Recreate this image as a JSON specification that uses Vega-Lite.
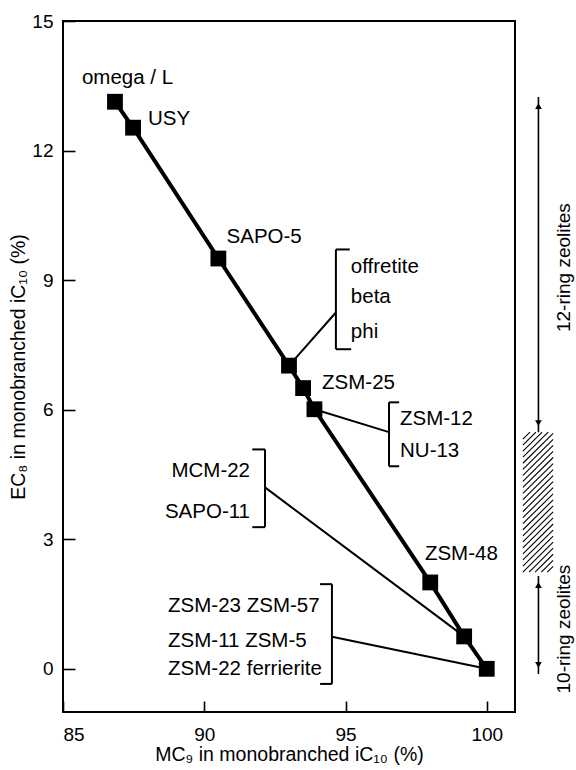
{
  "$schema": "https://vega.github.io/schema/vega-lite/v6.json",
  "width": 452,
  "height": 691,
  "autosize": "none",
  "padding": {"left": 63, "top": 21, "right": 61, "bottom": 58},
  "background": "white",
  "config": {
    "font": "Liberation Sans",
    "view": {"stroke": "black", "strokeWidth": 2},
    "axis": {"grid": false, "domain": false, "tickColor": "black", "tickWidth": 1.6, "labelColor": "black", "titleColor": "black", "labelFont": "Liberation Sans", "titleFont": "Liberation Sans", "labelFontSize": 19, "titleFontSize": 19.5, "titleFontWeight": "normal"}
  },
  "datasets": {
    "points": [
      {"i": 1, "x": 86.84, "y": 13.13},
      {"i": 2, "x": 87.48, "y": 12.53},
      {"i": 3, "x": 90.5, "y": 9.5},
      {"i": 4, "x": 93.0, "y": 7.02},
      {"i": 5, "x": 93.5, "y": 6.5},
      {"i": 6, "x": 93.9, "y": 6.01},
      {"i": 7, "x": 98.0, "y": 2.0},
      {"i": 8, "x": 99.2, "y": 0.75},
      {"i": 9, "x": 100.0, "y": 0.0}
    ],
    "leaders": [
      {"x": 93.0, "y": 7.02, "x2": 94.66, "y2": 8.25},
      {"x": 94.66, "y": 9.71, "x2": 94.66, "y2": 7.4},
      {"x": 94.66, "y": 9.71, "x2": 95.15, "y2": 9.71},
      {"x": 94.66, "y": 7.4, "x2": 95.2, "y2": 7.4},
      {"x": 93.9, "y": 6.01, "x2": 96.54, "y2": 5.48},
      {"x": 96.54, "y": 6.17, "x2": 96.54, "y2": 4.69},
      {"x": 96.54, "y": 6.17, "x2": 96.9, "y2": 6.17},
      {"x": 96.54, "y": 4.69, "x2": 96.9, "y2": 4.69},
      {"x": 92.15, "y": 4.2, "x2": 99.2, "y2": 0.75},
      {"x": 92.15, "y": 5.08, "x2": 92.15, "y2": 3.28},
      {"x": 91.7, "y": 5.08, "x2": 92.15, "y2": 5.08},
      {"x": 91.7, "y": 3.28, "x2": 92.15, "y2": 3.28},
      {"x": 94.52, "y": 0.74, "x2": 100.0, "y2": 0.0},
      {"x": 94.52, "y": 1.96, "x2": 94.52, "y2": -0.35},
      {"x": 94.1, "y": 1.96, "x2": 94.52, "y2": 1.96},
      {"x": 94.1, "y": -0.35, "x2": 94.52, "y2": -0.35}
    ],
    "labelsLeft": [
      {"x": 85.67, "y": 13.68, "t": "omega / L"},
      {"x": 88.01, "y": 12.73, "t": "USY"},
      {"x": 90.79, "y": 10.0, "t": "SAPO-5"},
      {"x": 95.19, "y": 9.31, "t": "offretite"},
      {"x": 95.19, "y": 8.6, "t": "beta"},
      {"x": 95.19, "y": 7.81, "t": "phi"},
      {"x": 94.17, "y": 6.61, "t": "ZSM-25"},
      {"x": 96.93, "y": 5.78, "t": "ZSM-12"},
      {"x": 96.93, "y": 5.04, "t": "NU-13"},
      {"x": 97.81, "y": 2.66, "t": "ZSM-48"},
      {"x": 88.72, "y": 1.46, "t": "ZSM-23 ZSM-57"},
      {"x": 88.72, "y": 0.65, "t": "ZSM-11 ZSM-5"},
      {"x": 88.72, "y": 0.0, "t": "ZSM-22 ferrierite"}
    ],
    "labelsRight": [
      {"x": 91.62, "y": 4.58, "t": "MCM-22"},
      {"x": 91.62, "y": 3.63, "t": "SAPO-11"}
    ],
    "sideText": [
      {"x": 102.75, "y": 9.29, "t": "12-ring zeolites"},
      {"x": 102.75, "y": 0.92, "t": "10-ring zeolites"}
    ],
    "arrows": [
      {"x": 101.83, "y": 13.24, "y2": 5.48},
      {"x": 101.83, "y": 2.15, "y2": -0.12}
    ],
    "headsUp": [
      {"x": 101.83, "y": 13.03},
      {"x": 101.83, "y": 1.94}
    ],
    "headsDown": [
      {"x": 101.83, "y": 5.69},
      {"x": 101.83, "y": 0.09}
    ],
    "hatch": [
      {"x": 101.28, "y": 2.24, "x2": 102.35, "y2": 2.933},
      {"x": 101.28, "y": 2.38, "x2": 102.35, "y2": 3.073},
      {"x": 101.28, "y": 2.52, "x2": 102.35, "y2": 3.213},
      {"x": 101.28, "y": 2.66, "x2": 102.35, "y2": 3.353},
      {"x": 101.28, "y": 2.8, "x2": 102.35, "y2": 3.493},
      {"x": 101.28, "y": 2.94, "x2": 102.35, "y2": 3.633},
      {"x": 101.28, "y": 3.08, "x2": 102.35, "y2": 3.773},
      {"x": 101.28, "y": 3.22, "x2": 102.35, "y2": 3.913},
      {"x": 101.28, "y": 3.36, "x2": 102.35, "y2": 4.053},
      {"x": 101.28, "y": 3.5, "x2": 102.35, "y2": 4.193},
      {"x": 101.28, "y": 3.64, "x2": 102.35, "y2": 4.333},
      {"x": 101.28, "y": 3.78, "x2": 102.35, "y2": 4.473},
      {"x": 101.28, "y": 3.92, "x2": 102.35, "y2": 4.613},
      {"x": 101.28, "y": 4.06, "x2": 102.35, "y2": 4.753},
      {"x": 101.28, "y": 4.2, "x2": 102.35, "y2": 4.893},
      {"x": 101.28, "y": 4.34, "x2": 102.35, "y2": 5.033},
      {"x": 101.28, "y": 4.48, "x2": 102.35, "y2": 5.173},
      {"x": 101.28, "y": 4.62, "x2": 102.35, "y2": 5.313},
      {"x": 101.28, "y": 4.76, "x2": 102.35, "y2": 5.453},
      {"x": 101.28, "y": 4.9, "x2": 102.175, "y2": 5.48},
      {"x": 101.28, "y": 5.04, "x2": 101.96, "y2": 5.48},
      {"x": 101.28, "y": 5.18, "x2": 101.74, "y2": 5.48},
      {"x": 101.28, "y": 5.32, "x2": 101.53, "y2": 5.48},
      {"x": 101.5, "y": 2.24, "x2": 102.35, "y2": 2.793},
      {"x": 101.71, "y": 2.24, "x2": 102.35, "y2": 2.653},
      {"x": 101.93, "y": 2.24, "x2": 102.35, "y2": 2.513},
      {"x": 102.14, "y": 2.24, "x2": 102.35, "y2": 2.373}
    ]
  },
  "encoding": {
    "x": {"field": "x", "type": "quantitative", "scale": {"domain": [85, 101], "nice": false, "zero": false},
      "axis": {"values": [85, 90, 95, 100], "tickSize": -11, "labelPadding": 24, "title": "MC₉ in monobranched iC₁₀ (%)", "titlePadding": 1}},
    "y": {"field": "y", "type": "quantitative", "scale": {"domain": [-1, 15], "nice": false, "zero": false},
      "axis": {"values": [0, 3, 6, 9, 12, 15], "tickSize": -12, "labelPadding": 22, "title": "EC₈ in monobranched iC₁₀ (%)", "titlePadding": 3}}
  },
  "layer": [
    {"data": {"name": "leaders"}, "mark": {"type": "rule", "color": "black", "strokeWidth": 2},
      "encoding": {"x2": {"field": "x2"}, "y2": {"field": "y2"}}},
    {"data": {"name": "points"}, "mark": {"type": "line", "color": "black", "strokeWidth": 4},
      "encoding": {"order": {"field": "i", "type": "quantitative"}}},
    {"data": {"name": "points"}, "mark": {"type": "point", "shape": "square", "filled": true, "color": "black", "size": 250, "opacity": 1}},
    {"data": {"name": "labelsLeft"}, "mark": {"type": "text", "align": "left", "baseline": "middle", "fontSize": 20.5, "color": "black"},
      "encoding": {"text": {"field": "t"}}},
    {"data": {"name": "labelsRight"}, "mark": {"type": "text", "align": "right", "baseline": "middle", "fontSize": 20.5, "color": "black"},
      "encoding": {"text": {"field": "t"}}},
    {"data": {"name": "sideText"}, "mark": {"type": "text", "align": "center", "baseline": "middle", "angle": 270, "fontSize": 19, "color": "black"},
      "encoding": {"text": {"field": "t"}}},
    {"data": {"name": "arrows"}, "mark": {"type": "rule", "color": "black", "strokeWidth": 1.6},
      "encoding": {"y2": {"field": "y2"}}},
    {"data": {"name": "headsUp"}, "mark": {"type": "point", "shape": "triangle-up", "filled": true, "color": "black", "size": 45, "opacity": 1}},
    {"data": {"name": "headsDown"}, "mark": {"type": "point", "shape": "triangle-down", "filled": true, "color": "black", "size": 45, "opacity": 1}},
    {"data": {"name": "hatch"}, "mark": {"type": "rule", "color": "black", "strokeWidth": 1.1},
      "encoding": {"x2": {"field": "x2"}, "y2": {"field": "y2"}}}
  ]
}
